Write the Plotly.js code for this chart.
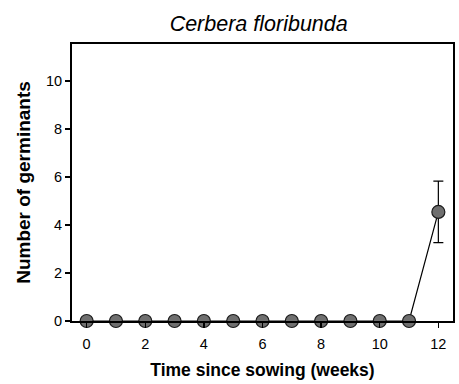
<!DOCTYPE html>
<html>
<head>
<meta charset="utf-8">
<script src="https://cdn.plot.ly/plotly-3.0.1.min.js"></script>
<style>
  html, body { margin: 0; padding: 0; background: #fff; }
  #chart { width: 459px; height: 384px; }
</style>
</head>
<body>
<div id="chart"></div>
<script>
// Weekly germination counts for Cerbera floribunda
const weeks = [0, 1, 2, 3, 4, 5, 6, 7, 8, 9, 10, 11, 12];
const germinants = [0, 0, 0, 0, 0, 0, 0, 0, 0, 0, 0, 0, 4.54];
const errors = [0, 0, 0, 0, 0, 0, 0, 0, 0, 0, 0, 0, 1.28];
const xTicks = [0, 2, 4, 6, 8, 10, 12];
const yTicks = [0, 2, 4, 6, 8, 10];

const baseFont = { family: 'Liberation Sans, Arial, sans-serif', color: '#000' };

const trace = {
  x: weeks,
  y: germinants,
  type: 'scatter',
  mode: 'lines+markers',
  cliponaxis: false,
  line: { color: '#000', width: 1.2 },
  marker: {
    size: 13,
    color: '#6f6f6f',
    line: { color: '#1a1a1a', width: 1.2 }
  },
  error_y: {
    type: 'data',
    array: errors,
    visible: true,
    color: '#000',
    thickness: 1.2,
    width: 5
  },
  hoverinfo: 'skip'
};

const layout = {
  width: 459,
  height: 384,
  margin: { l: 72, r: 6, t: 44, b: 63 },
  paper_bgcolor: '#fff',
  plot_bgcolor: '#fff',
  showlegend: false,
  font: Object.assign({ size: 14.5 }, baseFont),
  title: {
    text: 'Cerbera floribunda',
    font: Object.assign({ size: 21.5, style: 'italic' }, baseFont),
    xref: 'paper',
    x: 0.49,
    xanchor: 'center',
    y: 0.94,
    yanchor: 'middle'
  },
  xaxis: {
    range: [-0.5, 12.5],
    tickvals: xTicks,
    ticktext: xTicks.map(String),
    ticks: 'outside',
    ticklen: 5,
    tickwidth: 1.5,
    tickcolor: '#000',
    ticklabelstandoff: 4,
    showline: true,
    linecolor: '#000',
    linewidth: 2,
    mirror: true,
    showgrid: false,
    zeroline: false,
    tickfont: Object.assign({ size: 14.5 }, baseFont),
    title: {
      text: '<b>Time since sowing (weeks)</b>',
      font: Object.assign({ size: 17.5 }, baseFont),
      standoff: 12
    }
  },
  yaxis: {
    range: [0, 11.53],
    tickvals: yTicks,
    ticktext: yTicks.map(String),
    ticks: 'outside',
    ticklen: 5,
    tickwidth: 1.5,
    tickcolor: '#000',
    showline: true,
    linecolor: '#000',
    linewidth: 2,
    mirror: true,
    showgrid: false,
    zeroline: false,
    tickfont: Object.assign({ size: 14.5 }, baseFont),
    title: {
      text: '<b>Number of germinants</b>',
      font: Object.assign({ size: 19 }, baseFont),
      standoff: 10
    }
  }
};

Plotly.newPlot('chart', [trace], layout, { displayModeBar: false, staticPlot: true });
</script>
</body>
</html>
